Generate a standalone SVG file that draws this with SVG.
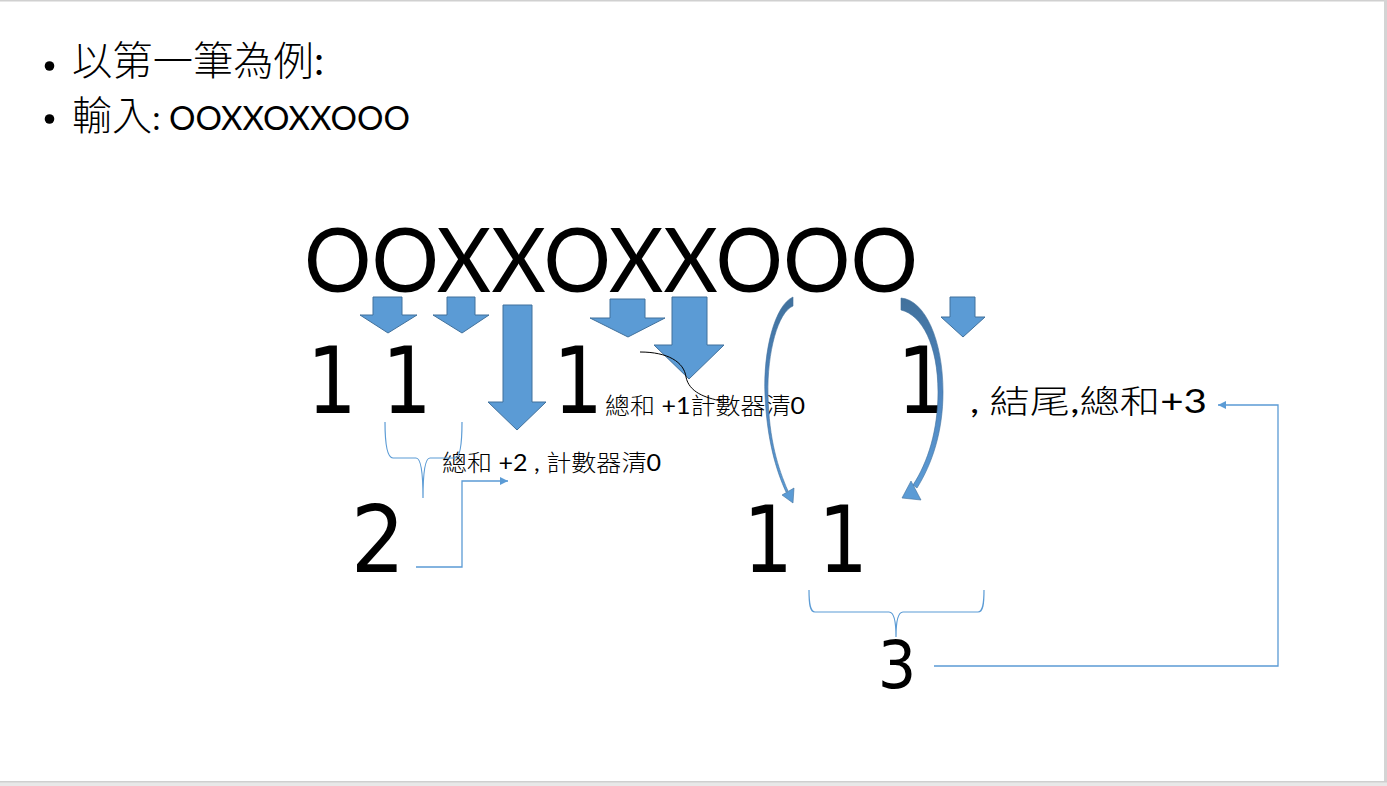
<svg xmlns="http://www.w3.org/2000/svg" width="1387" height="786" viewBox="0 0 1387 786">
<style>
text{font-family:Lato,"Noto Sans CJK TC",sans-serif;fill:#000}
.blk{fill:#5B9BD5;stroke:#41719C;stroke-width:1}
.ln{fill:none;stroke:#5B9BD5;stroke-width:1.3}
.brace{fill:none;stroke:#5B9BD5;stroke-width:1.2}
.big{font-family:"DejaVu Sans",sans-serif;font-size:93px}
.cj{font-family:"Noto Sans CJK TC",sans-serif;font-weight:300}
</style>
<defs>
<marker id="ah" viewBox="0 0 10 10" refX="10" refY="5" markerWidth="10" markerHeight="8" markerUnits="userSpaceOnUse" orient="auto">
<path d="M0,0 L10,5 L0,10 Z" fill="#5B9BD5"/>
</marker>
<linearGradient id="cg" x1="0" y1="0" x2="0" y2="1">
<stop offset="0" stop-color="#41719C"/>
<stop offset="0.5" stop-color="#4F86C0"/>
<stop offset="1" stop-color="#5B9BD5"/>
</linearGradient>
</defs>
<rect x="0" y="0" width="1387" height="786" fill="#ffffff"/>
<rect x="0" y="0" width="1387" height="1.5" fill="#d0d0d0"/>
<rect x="1384" y="0" width="3" height="786" fill="#d4d4d4"/>
<rect x="0" y="781" width="1387" height="5" fill="#e8e8e8"/>
<rect x="0" y="781" width="1387" height="1.5" fill="#cfcfcf"/>

<g id="bullets">
<circle cx="49.5" cy="66" r="4.8" fill="#000"/>
<text x="72" y="75" font-size="40" textLength="252" lengthAdjust="spacingAndGlyphs"><tspan class="cj">以第一筆為例</tspan>:</text>
<circle cx="49.5" cy="119" r="4.8" fill="#000"/>
<text x="72" y="130" font-size="40" textLength="338" lengthAdjust="spacingAndGlyphs"><tspan class="cj">輸入</tspan><tspan font-size="33">: OOXXOXXOOO</tspan></text>
</g>

<g id="input-string">
<text x="304" y="292" font-size="90" textLength="614" lengthAdjust="spacingAndGlyphs">OOXXOXXOOO</text>
</g>

<g id="down-arrows">
<path id="arrow1" class="blk" d="M373,297 H402 V315 H417 L388,333 L360,315 H373 Z"/>
<path id="arrow2" class="blk" d="M447,297 H475 V315 H489 L462,333 L433,315 H447 Z"/>
<path id="arrow3" class="blk" d="M503,305 H532 V402 H546 L517,430 L488,402 H503 Z"/>
<path id="arrow4" class="blk" d="M610,299 H645 V318 H665 L628,337 L590,318 H610 Z"/>
<path id="arrow5" class="blk" d="M672,297 H707 V345 H724 L689,379 L654,345 H672 Z"/>
<path id="arrow6" class="blk" d="M950,297 H975 V317 H985 L963,337 L941,317 H950 Z"/>
</g>

<g id="ones-row">
<text class="big" transform="translate(0,413) scale(0.84,1)" x="395.2 440.5 484.5" y="0" text-anchor="middle">1 1</text>
<text class="big" transform="translate(578,413) scale(0.84,1)" x="0" y="0" text-anchor="middle">1</text>
<text class="big" transform="translate(922,413) scale(0.84,1)" x="0" y="0" text-anchor="middle">1</text>
</g>

<g id="labels">
<text x="605" y="414" font-size="23" textLength="200" lengthAdjust="spacingAndGlyphs"><tspan class="cj">總和</tspan> +1<tspan class="cj">計數器清</tspan>0</text>
<text x="442" y="471" font-size="23" textLength="219" lengthAdjust="spacingAndGlyphs"><tspan class="cj">總和</tspan> +2 , <tspan class="cj">計數器清</tspan>0</text>
<text x="970" y="413" font-size="32" textLength="237" lengthAdjust="spacingAndGlyphs">, <tspan class="cj">結尾</tspan>,<tspan class="cj">總和</tspan>+3</text>
</g>

<g id="sum-two">
<text class="big" transform="translate(378,572) scale(0.92,1)" x="0" y="0" text-anchor="middle">2</text>
</g>
<g id="ones-lower">
<text class="big" transform="translate(0,572) scale(0.84,1)" x="914.3 958.3 1003.6" y="0" text-anchor="middle">1 1</text>
</g>
<g id="sum-three">
<text class="big" transform="translate(897,688) scale(0.92,1)" x="0" y="0" text-anchor="middle" style="font-size:66px">3</text>
</g>

<g id="braces">
<path class="brace" d="M385,422 C385,442 387,458 393,458 L416,458 C421,458 423,472 423,498 C423,472 425,458 430,458 L455,458 C460,458 462,442 462,422"/>
<path class="brace" d="M809,590 C809,604 810,612 815,612 L889,612 C894,612 896,622 896,637 C896,622 898,612 903,612 L978,612 C983,612 984,604 984,590"/>
</g>

<g id="connectors">
<path class="ln" d="M416,567 H462 V481 H508" marker-end="url(#ah)"/>
<path class="ln" d="M934,666 H1278 V405 H1218" marker-end="url(#ah)"/>
<path d="M640,352 C668,352 684,362 686,377 C689,392 705,398 722,401" fill="none" stroke="#000" stroke-width="1"/>
<g id="curve-left" fill="url(#cg)" stroke="#41719C" stroke-width="0.6">
<path d="M793,297 C775,305 763,350 765,395 C767,440 776,470 786,492 L788,491 C778,468 769,440 768,395 C767,352 778,312 793,306 Z"/>
<path d="M793,503 L782,495 L794,488 Z" fill="#5B9BD5"/>
</g>
<g id="curve-right" fill="url(#cg)" stroke="#41719C" stroke-width="0.6">
<path d="M901,298 C925,300 943,340 943,392 C943,432 932,464 917,488 L913,485 C928,462 938,430 938,392 C938,345 922,315 901,310 Z"/>
<path d="M902,498 L911,481 L921,500 Z" fill="#5B9BD5"/>
</g>
</g>
</svg>
